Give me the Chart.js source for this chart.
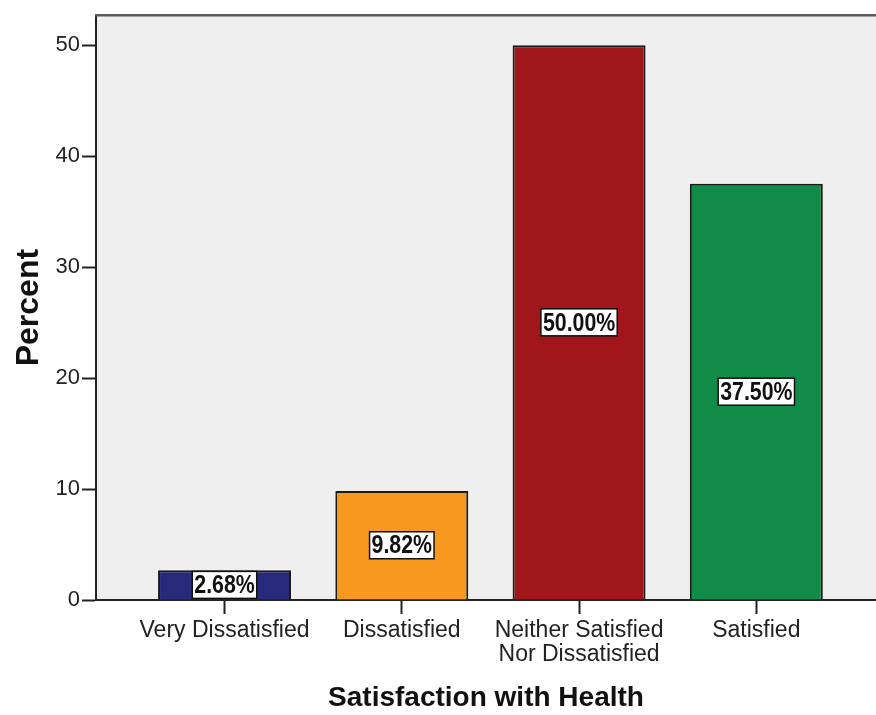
<!DOCTYPE html>
<html>
<head>
<meta charset="utf-8">
<script src="https://cdn.jsdelivr.net/npm/chart.js@4/dist/chart.umd.min.js"></script>
<style>
  html, body { margin: 0; padding: 0; background: #ffffff; }
  #wrap { width: 876px; height: 715px; }
</style>
</head>
<body>
<div id="wrap"><canvas id="chart" width="876" height="715"></canvas></div>
<script>
// Satisfaction with Health — percent of respondents per response category
const categories = [
  'Very Dissatisfied',
  'Dissatisfied',
  ['Neither Satisfied', 'Nor Dissatisfied'],
  'Satisfied'
];
const percents = [2.68, 9.82, 50.00, 37.50];
const barColors = ['#27297a', '#f7991e', '#a1161b', '#138b48'];
const yTicks = [0, 10, 20, 30, 40, 50];

const AXIS_FONT = "'Liberation Sans', Arial, sans-serif";
const TITLE_FONT = "'Liberation Sans', Arial, sans-serif";
const VALUE_FONT = "'Liberation Sans', Arial, sans-serif";

// Light grey plot background plus the grey frame line along the top
const plotFrame = {
  id: 'plotFrame',
  beforeDraw(chart) {
    const { ctx, chartArea: a } = chart;
    ctx.save();
    ctx.fillStyle = '#efefef';
    ctx.fillRect(a.left, a.top, a.right - a.left, a.bottom - a.top);
    ctx.restore();
  },
  afterDraw(chart) {
    const { ctx, chartArea: a } = chart;
    ctx.save();
    ctx.strokeStyle = '#5a5a5a';
    ctx.lineWidth = 2.5;
    ctx.beginPath();
    ctx.moveTo(a.left - 1, a.top);
    ctx.lineTo(a.right, a.top);
    ctx.stroke();
    ctx.restore();
  }
};

// Boxed percentage label at the middle of each bar (condensed bold text)
const valueBoxes = {
  id: 'valueBoxes',
  afterDatasetsDraw(chart) {
    const { ctx } = chart;
    const meta = chart.getDatasetMeta(0);
    const squeeze = 0.82;
    ctx.save();
    ctx.font = 'bold 26px ' + VALUE_FONT;
    ctx.textAlign = 'center';
    ctx.textBaseline = 'middle';
    meta.data.forEach((bar, i) => {
      const text = percents[i].toFixed(2) + '%';
      const cx = bar.x;
      const cy = (bar.y + bar.base) / 2;
      const w = ctx.measureText(text).width * squeeze + 4;
      const h = 27;
      ctx.fillStyle = '#ffffff';
      ctx.fillRect(cx - w / 2, cy - h / 2, w, h);
      ctx.strokeStyle = '#111111';
      ctx.lineWidth = 1.5;
      ctx.strokeRect(cx - w / 2, cy - h / 2, w, h);
      ctx.save();
      ctx.translate(cx, cy + 1);
      ctx.scale(squeeze, 1);
      ctx.fillStyle = '#111111';
      ctx.fillText(text, 0, 0);
      ctx.restore();
    });
    ctx.restore();
  }
};

new Chart(document.getElementById('chart'), {
  type: 'bar',
  data: {
    datasets: [{
      data: percents.map((v, i) => ({ x: i, y: v })),
      backgroundColor: barColors,
      borderColor: '#1a1a1a',
      borderWidth: 2,
      barPercentage: 0.75,
      categoryPercentage: 1.0
    }]
  },
  plugins: [plotFrame, valueBoxes],
  options: {
    responsive: false,
    animation: false,
    events: [],
    layout: { padding: { top: 14, right: 0, left: 0, bottom: 0 } },
    plugins: {
      legend: { display: false },
      tooltip: { enabled: false }
    },
    scales: {
      x: {
        type: 'linear',
        offset: false,
        min: -0.725,
        max: 3.675,
        afterBuildTicks(scale) {
          scale.ticks = categories.map((c, i) => ({ value: i }));
        },
        afterFit(scale) { scale.height = 115; },
        ticks: {
          autoSkip: false,
          maxRotation: 0,
          padding: 5,
          color: '#222222',
          font: { family: AXIS_FONT, size: 23, lineHeight: '24px' },
          callback: (v) => categories[v]
        },
        grid: {
          offset: false,
          drawOnChartArea: false,
          drawTicks: true,
          tickLength: 14,
          tickWidth: 2,
          tickColor: '#222222'
        },
        border: { display: true, color: '#222222', width: 2 },
        title: {
          display: true,
          text: 'Satisfaction with Health',
          color: '#111111',
          font: { family: TITLE_FONT, size: 28, weight: 'bold', lineHeight: 1.2 },
          padding: { top: 0, bottom: 0 }
        }
      },
      y: {
        min: 0,
        max: 52.7,
        afterBuildTicks(scale) {
          scale.ticks = yTicks.map(v => ({ value: v }));
        },
        afterFit(scale) { scale.width = 96; },
        ticks: {
          padding: 2,
          color: '#222222',
          font: { family: AXIS_FONT, size: 22 }
        },
        grid: {
          drawOnChartArea: false,
          drawTicks: true,
          tickLength: 14,
          tickWidth: 2,
          tickColor: '#222222'
        },
        border: { display: true, color: '#222222', width: 2 },
        title: {
          display: true,
          text: 'Percent',
          color: '#111111',
          font: { family: TITLE_FONT, size: 32, weight: 'bold', lineHeight: 1.2 },
          padding: { top: 10, bottom: 0 }
        }
      }
    }
  }
});
</script>
</body>
</html>
